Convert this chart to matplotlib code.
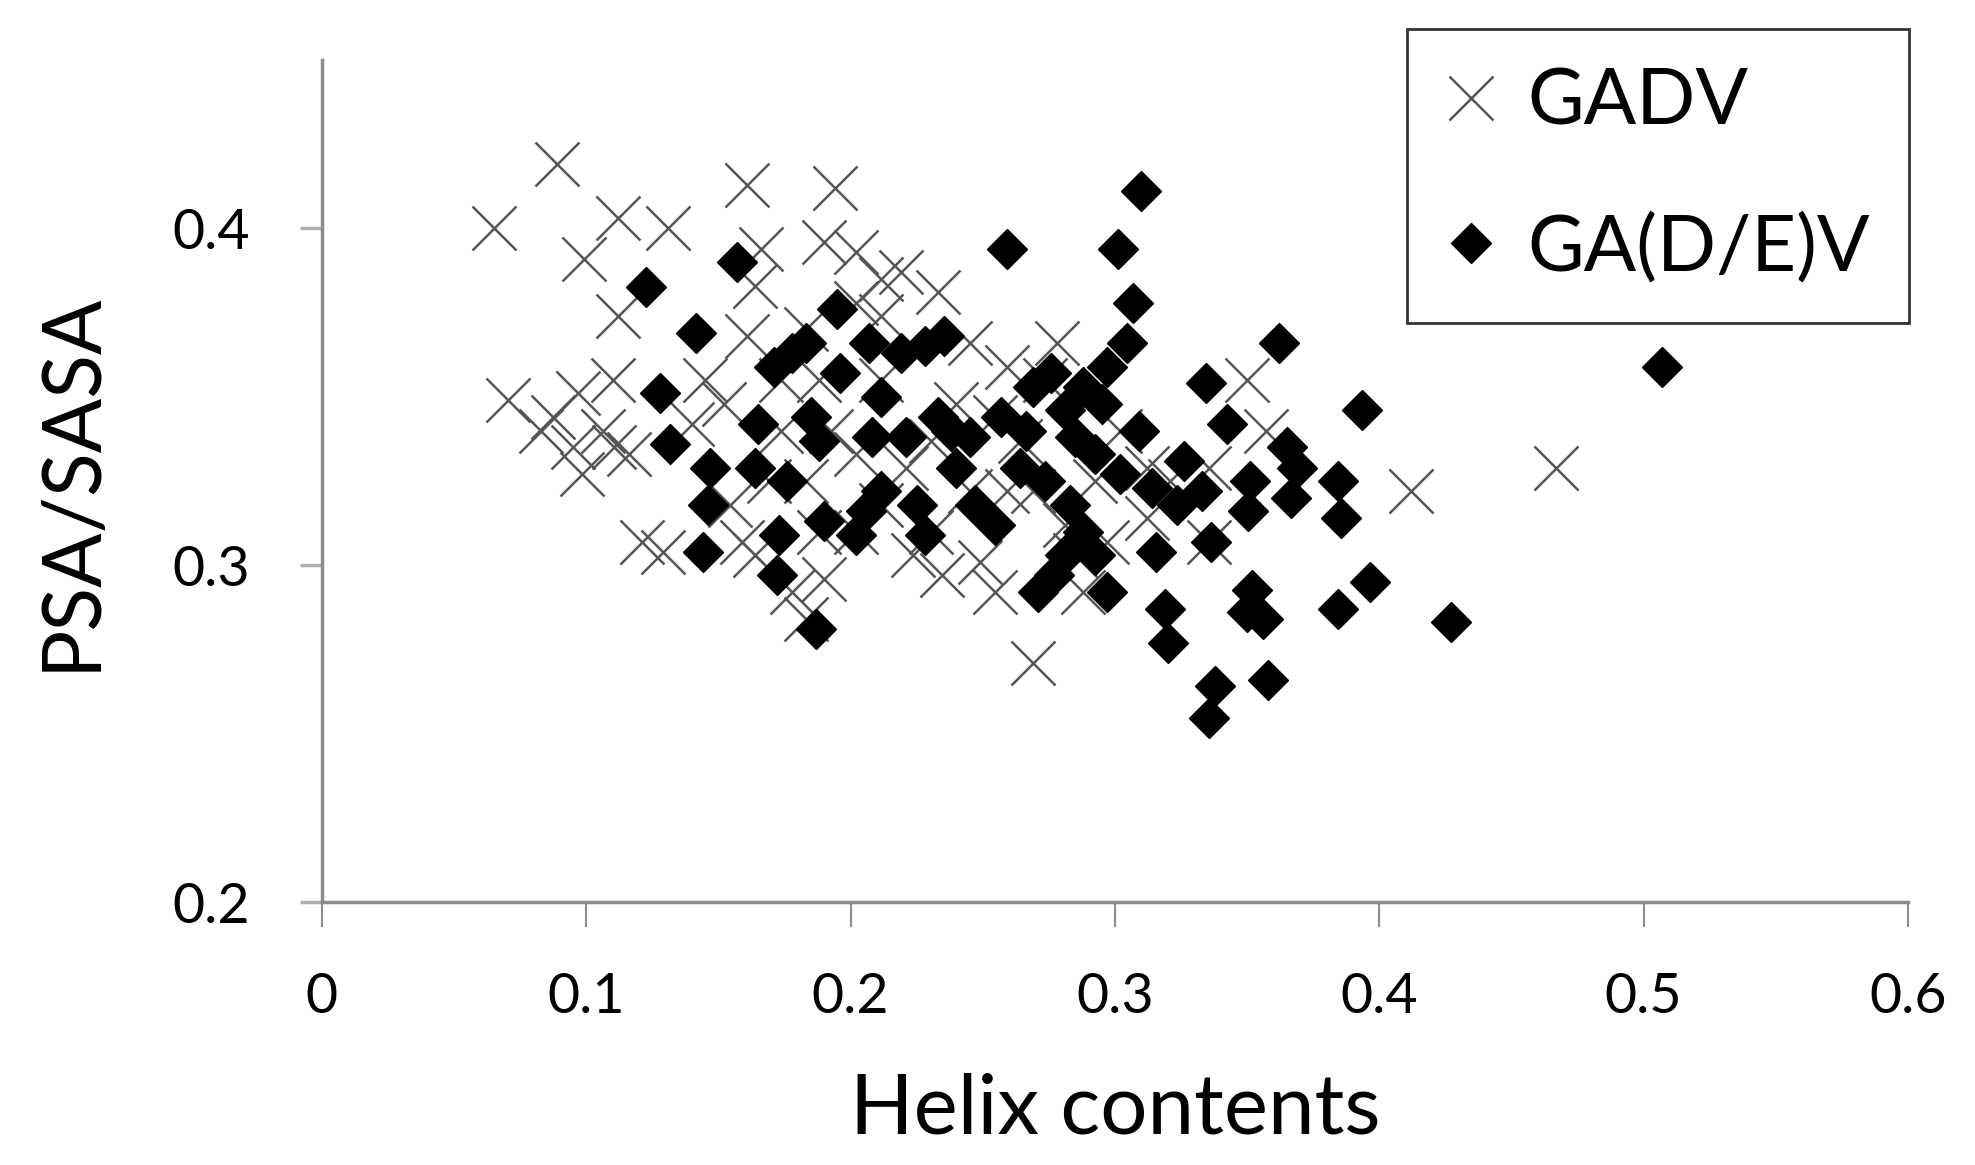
import numpy as np
import matplotlib.pyplot as plt

plt.rcParams['font.family'] = ['Lato', 'DejaVu Sans']

## GADV points (helix contents, PSA/SASA)
gadv_x = [0.065, 0.089, 0.099, 0.112, 0.131, 0.161, 0.194, 0.112, 0.0705, 0.083,
          0.097, 0.095, 0.0985, 0.110, 0.1105, 0.121, 0.129, 0.161, 0.159, 0.164,
          0.166, 0.183, 0.190, 0.202, 0.2115, 0.219, 0.233, 0.245, 0.2545, 0.249,
          0.2545, 0.2345, 0.269, 0.2735, 0.278, 0.281, 0.285, 0.288, 0.297, 0.302,
          0.312, 0.321, 0.3355, 0.350, 0.357, 0.412, 0.467, 0.178, 0.183, 0.190,
          0.152, 0.140, 0.1735, 0.183, 0.1925, 0.202, 0.2115, 0.221, 0.2305, 0.240,
          0.264, 0.269, 0.259, 0.245, 0.2115, 0.202, 0.169, 0.1735, 0.188, 0.2305,
          0.164, 0.188, 0.2235, 0.2925, 0.312, 0.3355, 0.145, 0.1545, 0.202, 0.2115,
          0.259, 0.116, 0.1065, 0.0875]
gadv_y = [0.400, 0.419, 0.391, 0.403, 0.400, 0.413, 0.412, 0.374, 0.349, 0.340,
          0.351, 0.335, 0.327, 0.355, 0.335, 0.307, 0.304, 0.368, 0.307, 0.383,
          0.394, 0.370, 0.396, 0.393, 0.385, 0.387, 0.381, 0.366, 0.344, 0.301,
          0.292, 0.297, 0.271, 0.355, 0.366, 0.312, 0.303, 0.292, 0.307, 0.340,
          0.329, 0.325, 0.329, 0.355, 0.340, 0.322, 0.329, 0.292, 0.284, 0.296,
          0.348, 0.342, 0.340, 0.325, 0.340, 0.333, 0.355, 0.329, 0.337, 0.348,
          0.337, 0.322, 0.359, 0.322, 0.318, 0.310, 0.325, 0.355, 0.355, 0.310,
          0.303, 0.310, 0.303, 0.325, 0.314, 0.307, 0.355, 0.318, 0.378, 0.374,
          0.322, 0.333, 0.340, 0.344]

## GA(D/E)V points
gade_x = [0.1225, 0.128, 0.1315, 0.1415, 0.147, 0.146, 0.144, 0.157, 0.165, 0.171,
          0.178, 0.176, 0.173, 0.172, 0.187, 0.188, 0.190, 0.195, 0.196, 0.202,
          0.206, 0.208, 0.2115, 0.207, 0.219, 0.228, 0.2355, 0.225, 0.228, 0.238,
          0.240, 0.247, 0.2545, 0.259, 0.257, 0.2665, 0.271, 0.277, 0.276, 0.281,
          0.2735, 0.283, 0.288, 0.2925, 0.297, 0.301, 0.3045, 0.307, 0.310, 0.297,
          0.302, 0.288, 0.314, 0.3155, 0.319, 0.320, 0.3235, 0.333, 0.3345, 0.3365,
          0.338, 0.3355, 0.3425, 0.351, 0.3505, 0.352, 0.356, 0.350, 0.358, 0.362,
          0.365, 0.369, 0.3665, 0.3845, 0.3855, 0.3845, 0.3935, 0.3965, 0.427, 0.507,
          0.185, 0.221, 0.233, 0.264, 0.285, 0.295, 0.309, 0.269, 0.245, 0.164,
          0.183, 0.2115, 0.281, 0.2925, 0.326]
gade_y = [0.3825, 0.351, 0.336, 0.369, 0.329, 0.318, 0.304, 0.390, 0.342, 0.359,
          0.363, 0.325, 0.309, 0.297, 0.281, 0.337, 0.313, 0.376, 0.357, 0.309,
          0.316, 0.338, 0.350, 0.366, 0.363, 0.365, 0.368, 0.318, 0.309, 0.340,
          0.329, 0.318, 0.312, 0.394, 0.344, 0.340, 0.292, 0.297, 0.357, 0.346,
          0.325, 0.318, 0.310, 0.333, 0.359, 0.394, 0.366, 0.378, 0.411, 0.292,
          0.327, 0.353, 0.323, 0.304, 0.287, 0.277, 0.318, 0.322, 0.354, 0.307,
          0.264, 0.2545, 0.342, 0.325, 0.316, 0.2925, 0.284, 0.286, 0.266, 0.366,
          0.335, 0.329, 0.320, 0.325, 0.314, 0.287, 0.346, 0.295, 0.283, 0.359,
          0.344, 0.338, 0.344, 0.329, 0.338, 0.348, 0.340, 0.353, 0.338, 0.329,
          0.366, 0.322, 0.303, 0.303, 0.331]

x_ticks = [0, 0.1, 0.2, 0.3, 0.4, 0.5, 0.6]
x_ticklabels = ['0', '0.1', '0.2', '0.3', '0.4', '0.5', '0.6']
y_ticks = [0.2, 0.3, 0.4]
y_ticklabels = ['0.2', '0.3', '0.4']

fig = plt.figure(figsize=(19.75, 11.65), dpi=100)
ax = fig.add_axes([0.163, 0.2257, 0.803, 0.7228])

ax.plot(gadv_x, gadv_y, linestyle='none', marker='x', markersize=32,
        markeredgewidth=1.8, color='#555555', label='GADV')
ax.plot(gade_x, gade_y, linestyle='none', marker='D', markersize=20,
        color='black', label='GA(D/E)V')

ax.set_xlim(0, 0.6)
ax.set_ylim(0.2, 0.45)
ax.set_xticks(x_ticks)
ax.set_xticklabels(x_ticklabels)
ax.set_yticks(y_ticks)
ax.set_yticklabels(y_ticklabels)

for side in ['top', 'right']:
    ax.spines[side].set_visible(False)
for side in ['left', 'bottom']:
    ax.spines[side].set_color('#8c8c8c')
    ax.spines[side].set_linewidth(2.5)

ax.tick_params(axis='x', length=18, width=1.5, color='#8c8c8c', pad=32,
               labelsize=40)
ax.tick_params(axis='y', length=16, width=2.5, color='#b0b0b0', pad=36,
               labelsize=40)

ax.set_xlabel('Helix contents', fontsize=60, labelpad=36)
ax.set_ylabel('PSA/SASA', fontsize=58, labelpad=46)

leg = ax.legend(loc='upper left', bbox_to_anchor=(1407 / 1975, 1 - 29 / 1165),
                bbox_transform=fig.transFigure, fontsize=56, frameon=True,
                fancybox=False, handlelength=0.65, handletextpad=0.4,
                labelspacing=0.95, borderpad=0.5, borderaxespad=0)
leg.get_frame().set_edgecolor('black')
leg.get_frame().set_linewidth(2)

fig.savefig('out.png', dpi=100)
